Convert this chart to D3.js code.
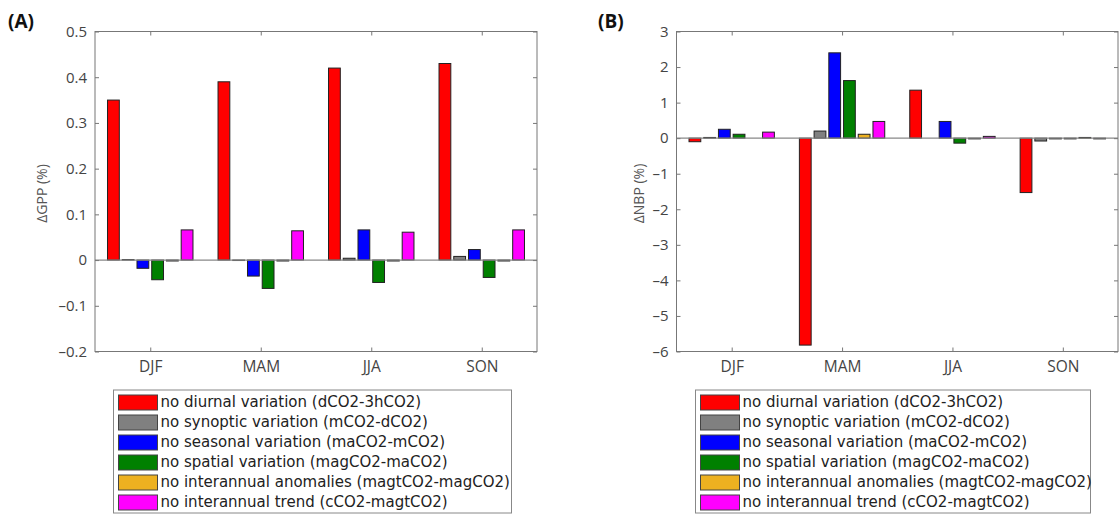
<!DOCTYPE html>
<html lang="en">
<head>
<meta charset="UTF-8">
<title>GPP and NBP sensitivity</title>
<script src="https://d3js.org/d3.v7.min.js"></script>
<style>
  body { margin: 0; background: #fff; }
  .tick text { font-family: "Open Sans", sans-serif; fill: #444; }
  .domain { display: none; }
  .tick line { stroke: #777; }
</style>
</head>
<body>
<svg width="1120" height="520"></svg>
<script>
const seasons = ["DJF", "MAM", "JJA", "SON"];
const seriesNames = [
  "no diurnal variation (dCO2-3hCO2)",
  "no synoptic variation (mCO2-dCO2)",
  "no seasonal variation (maCO2-mCO2)",
  "no spatial variation (magCO2-maCO2)",
  "no interannual anomalies (magtCO2-magCO2)",
  "no interannual trend (cCO2-magtCO2)"
];
const seriesColors = ["#ff0000", "#808080", "#0000ff", "#008000", "#edb120", "#ff00ff"];

// panel A: change in GPP (%), one array per series, by season
const gppDiurnal   = [0.35, 0.39, 0.42, 0.43];
const gppSynoptic  = [0.001, -0.001, 0.004, 0.008];
const gppSeasonal  = [-0.018, -0.035, 0.066, 0.023];
const gppSpatial   = [-0.043, -0.062, -0.049, -0.038];
const gppAnomalies = [-0.002, -0.002, -0.002, -0.002];
const gppTrend     = [0.066, 0.064, 0.061, 0.066];

// panel B: change in NBP (%)
const nbpDiurnal   = [-0.1, -5.82, 1.35, -1.53];
const nbpSynoptic  = [0.02, 0.2, 0.0, -0.08];
const nbpSeasonal  = [0.25, 2.4, 0.47, -0.02];
const nbpSpatial   = [0.11, 1.62, -0.14, -0.02];
const nbpAnomalies = [0.0, 0.11, -0.02, 0.02];
const nbpTrend     = [0.17, 0.47, 0.05, -0.02];

const gppTicks = [-0.2, -0.1, 0, 0.1, 0.2, 0.3, 0.4, 0.5];
const nbpTicks = [-6, -5, -4, -3, -2, -1, 0, 1, 2, 3];

const svg = d3.select("svg");
const fmt = d => (d < 0 ? "\u2013" : "") + Math.abs(d);

function panel(opts) {
  const { left, right, top, bottom, yDomain, yTicks, series, label, yLabel, labelX, yLabelX } = opts;
  const g = svg.append("g");
  const x = d3.scaleLinear().domain([0.5, seasons.length + 0.5]).range([left, right]);
  const y = d3.scaleLinear().domain(yDomain).range([bottom, top]);

  const nSer = series.length;
  const pitch = 0.8 / nSer;
  const barW = pitch * 0.8;

  // bars
  series.forEach((vals, j) => {
    g.append("g").selectAll("rect")
      .data(vals)
      .enter().append("rect")
      .attr("x", (d, i) => x(i + 1 + (j - (nSer - 1) / 2) * pitch - barW / 2))
      .attr("width", x(barW) - x(0))
      .attr("y", d => y(Math.max(0, d)))
      .attr("height", d => Math.abs(y(d) - y(0)))
      .attr("fill", seriesColors[j])
      .attr("stroke", "#222")
      .attr("stroke-width", 1);
  });

  // baseline
  g.append("line")
    .attr("x1", left).attr("x2", right)
    .attr("y1", y(0)).attr("y2", y(0))
    .attr("stroke", "#888").attr("stroke-width", 1.2);

  // axes with inward ticks on all four sides
  g.append("g").attr("transform", `translate(${left},0)`)
    .call(d3.axisLeft(y).tickValues(yTicks).tickSize(-4).tickPadding(8).tickFormat(fmt))
    .selectAll("text").style("font-size", "15px");
  g.append("g").attr("transform", `translate(${right},0)`)
    .call(d3.axisRight(y).tickValues(yTicks).tickSize(-4).tickFormat(""));
  g.append("g").attr("transform", `translate(0,${bottom})`)
    .call(d3.axisBottom(x).tickValues([1, 2, 3, 4]).tickSize(-4).tickPadding(9)
      .tickFormat(d => seasons[d - 1]))
    .selectAll("text").style("font-size", "15.5px");
  g.append("g").attr("transform", `translate(0,${top})`)
    .call(d3.axisTop(x).tickValues([1, 2, 3, 4]).tickSize(-4).tickFormat(""));

  g.append("rect")
    .attr("x", left).attr("y", top)
    .attr("width", right - left).attr("height", bottom - top)
    .attr("fill", "none").attr("stroke", "#777").attr("stroke-width", 1);

  // y label
  g.append("text")
    .attr("transform", `translate(${yLabelX},${(top + bottom) / 2 + 2}) rotate(-90)`)
    .attr("text-anchor", "middle")
    .style("font-family", "Open Sans, sans-serif")
    .style("font-size", "14px")
    .style("fill", "#555")
    .text(yLabel);

  // panel letter
  g.append("text")
    .attr("x", labelX).attr("y", 28)
    .style("font-family", "Open Sans, sans-serif")
    .style("font-size", "19px")
    .style("font-weight", "bold")
    .style("fill", "#111")
    .text(label);

  // legend
  const lx = opts.legendX, ly = 390, lw = opts.legendW, lh = 123;
  const leg = g.append("g");
  leg.append("rect")
    .attr("x", lx).attr("y", ly).attr("width", lw).attr("height", lh)
    .attr("fill", "#fff").attr("stroke", "#888").attr("stroke-width", 1);
  seriesNames.forEach((name, j) => {
    const cy = ly + 12 + j * 20;
    leg.append("rect")
      .attr("x", lx + 5).attr("y", cy - 7)
      .attr("width", 39).attr("height", 15)
      .attr("fill", seriesColors[j])
      .attr("stroke", "#444").attr("stroke-width", 1);
    leg.append("text")
      .attr("x", lx + 47).attr("y", cy + 5)
      .style("font-family", "'DejaVu Sans', sans-serif")
      .style("font-size", "15px")
      .style("fill", "#222")
      .text(name);
  });
}

panel({
  left: 95, right: 537, top: 31.5, bottom: 351.5,
  yDomain: [-0.2, 0.5], yTicks: gppTicks,
  series: [gppDiurnal, gppSynoptic, gppSeasonal, gppSpatial, gppAnomalies, gppTrend],
  label: "(A)", yLabel: "\u0394GPP (%)", labelX: 8, yLabelX: 47,
  legendX: 113.5, legendW: 398
});

panel({
  left: 676.5, right: 1118, top: 31.5, bottom: 351.5,
  yDomain: [-6, 3], yTicks: nbpTicks,
  series: [nbpDiurnal, nbpSynoptic, nbpSeasonal, nbpSpatial, nbpAnomalies, nbpTrend],
  label: "(B)", yLabel: "\u0394NBP (%)", labelX: 598, yLabelX: 644,
  legendX: 695.5, legendW: 395
});
</script>
</body>
</html>
